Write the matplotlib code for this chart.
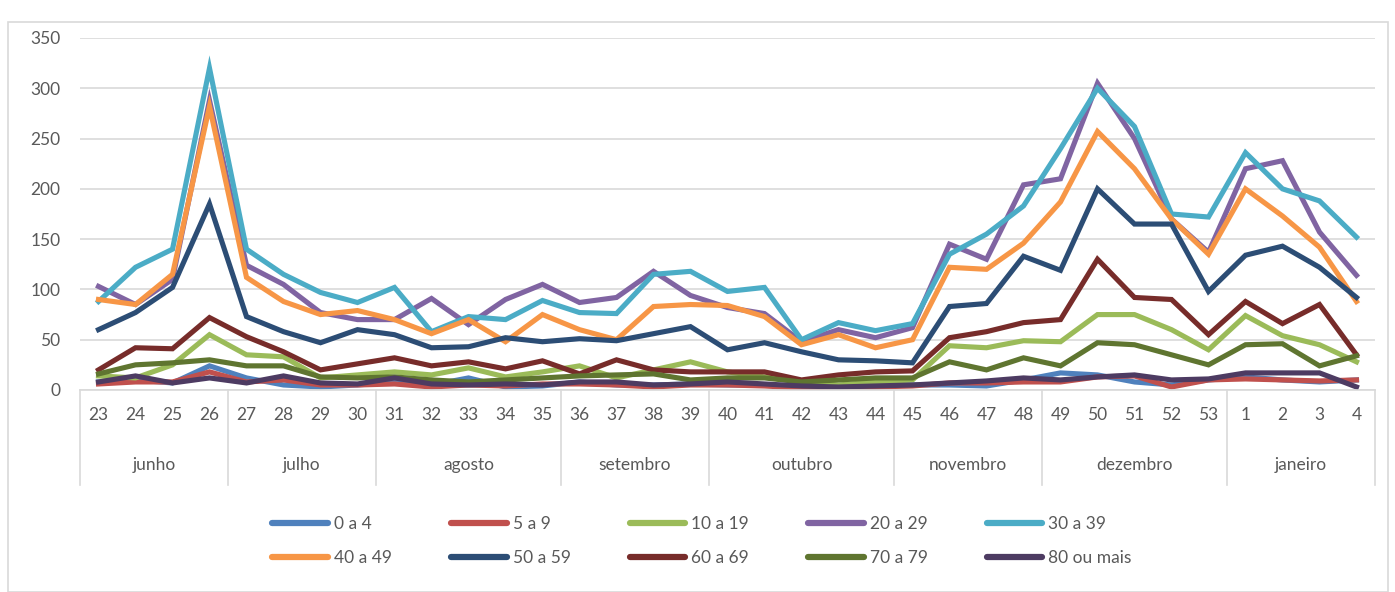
import matplotlib
matplotlib.use("Agg")
import matplotlib.pyplot as plt
from matplotlib.patches import Rectangle
from matplotlib.lines import Line2D

plt.rcParams['font.family'] = ['Lato', 'DejaVu Sans']

weeks = ['23', '24', '25', '26', '27', '28', '29', '30', '31', '32', '33', '34', '35',
         '36', '37', '38', '39', '40', '41', '42', '43', '44', '45', '46', '47', '48',
         '49', '50', '51', '52', '53', '1', '2', '3', '4']
months = ['junho', 'julho', 'agosto', 'setembro', 'outubro', 'novembro', 'dezembro', 'janeiro']
month_sizes = [4, 4, 5, 4, 5, 4, 5, 4]

s_0a4 = [8, 10, 7, 24, 12, 5, 3, 5, 8, 5, 12, 3, 4, 8, 5, 5, 6, 5, 5, 3, 3, 5, 5, 5, 4, 10,
         17, 15, 8, 5, 10, 13, 10, 8, 10]
s_5a9 = [6, 8, 8, 18, 8, 10, 5, 5, 6, 3, 5, 4, 6, 6, 5, 3, 5, 5, 4, 2, 3, 3, 4, 7, 7, 8,
         8, 13, 14, 3, 10, 11, 10, 9, 10]
s_10a19 = [14, 12, 25, 55, 35, 33, 12, 15, 18, 15, 22, 13, 18, 24, 12, 20, 28, 18, 13, 8, 5, 8,
           10, 44, 42, 49, 48, 75, 75, 60, 40, 74, 54, 45, 28]
s_20a29 = [103, 85, 110, 288, 124, 105, 77, 70, 70, 91, 65, 90, 105, 87, 92, 118, 94, 82, 76,
           48, 60, 52, 62, 145, 130, 204, 210, 305, 250, 170, 137, 220, 228, 157, 114]
s_30a39 = [88, 122, 140, 320, 140, 115, 97, 87, 102, 58, 73, 70, 89, 77, 76, 115, 118, 98, 102,
           50, 67, 59, 66, 135, 155, 183, 240, 300, 262, 175, 172, 236, 200, 188, 152]
s_40a49 = [90, 85, 115, 282, 112, 88, 75, 79, 70, 56, 70, 48, 75, 60, 50, 83, 85, 84, 73, 45,
           55, 42, 50, 122, 120, 146, 187, 257, 220, 170, 135, 200, 173, 142, 88]
s_50a59 = [60, 77, 102, 185, 73, 58, 47, 60, 55, 42, 43, 52, 48, 51, 49, 56, 63, 40, 47, 38,
           30, 29, 27, 83, 86, 133, 119, 200, 165, 165, 98, 134, 143, 122, 92]
s_60a69 = [20, 42, 41, 72, 53, 38, 20, 26, 32, 24, 28, 21, 29, 16, 30, 20, 18, 18, 18, 10, 15,
           18, 19, 52, 58, 67, 70, 130, 92, 90, 55, 88, 66, 85, 35]
s_70a79 = [16, 25, 27, 30, 24, 24, 13, 12, 13, 10, 8, 10, 12, 14, 15, 16, 10, 12, 12, 8, 10, 12,
           12, 28, 20, 32, 24, 47, 45, 35, 25, 45, 46, 24, 34]
s_80mais = [8, 14, 7, 12, 7, 14, 7, 6, 12, 6, 5, 6, 5, 8, 8, 5, 6, 8, 6, 4, 3, 4, 5, 7, 9, 12,
            10, 13, 15, 10, 11, 17, 17, 17, 3]

series_labels = ['0 a 4', '5 a 9', '10 a 19', '20 a 29', '30 a 39',
                 '40 a 49', '50 a 59', '60 a 69', '70 a 79', '80 ou mais']
series_values = [s_0a4, s_5a9, s_10a19, s_20a29, s_30a39,
                 s_40a49, s_50a59, s_60a69, s_70a79, s_80mais]
colors = ['#4F81BD', '#C0504D', '#9BBB59', '#8064A2', '#4BACC6',
          '#F79646', '#2C4D75', '#772C2A', '#5F7530', '#4D3B62']

W, H = 1395, 592
fig = plt.figure(figsize=(W / 100, H / 100), dpi=100)
fig.patches.append(Rectangle((8 / W, 0), (1388 - 8) / W, (H - 22) / H, transform=fig.transFigure,
                             fill=False, edgecolor='#D9D9D9', lw=1.2))

ax = fig.add_axes([80 / W, 1 - 390 / H, (1375 - 80) / W, (390 - 38) / H])
x = list(range(len(weeks)))
for vals, c, lab in zip(series_values, colors, series_labels):
    ax.plot(x, vals, color=c, lw=3.7, label=lab, solid_joinstyle='miter')

ax.set_xlim(-0.5, len(weeks) - 0.5)
ax.set_ylim(0, 350)
ax.set_yticks(range(0, 351, 50))
ax.yaxis.grid(True, color='#D9D9D9', lw=1.2)
ax.set_axisbelow(True)
for s in ['top', 'right', 'left']:
    ax.spines[s].set_visible(False)
ax.spines['bottom'].set_color('#D9D9D9')
ax.spines['bottom'].set_linewidth(1.2)
ax.tick_params(axis='y', length=0, labelsize=12.5, labelcolor='#595959', pad=14)
ax.set_xticks(x)
ax.set_xticklabels(weeks)
ax.tick_params(axis='x', length=0, labelsize=12.5, labelcolor='#595959', pad=12)

# month level
trans = ax.get_xaxis_transform()
pos = -0.5
bounds = [pos]
for m, n in zip(months, month_sizes):
    ax.text(pos + n / 2, -0.213, m, transform=trans, ha='center', va='center',
            fontsize=12.5, color='#595959')
    pos += n
    bounds.append(pos)
for b in bounds:
    ax.add_line(Line2D([b, b], [0, -0.27], transform=trans, color='#D9D9D9', lw=1.2,
                       clip_on=False))

handles = [Line2D([], [], color=c, lw=4.5, solid_capstyle='round') for c in colors]
order = [0, 5, 1, 6, 2, 7, 3, 8, 4, 9]
fig.legend([handles[i] for i in order], [series_labels[i] for i in order], loc='center',
           bbox_to_anchor=(702 / W, 1 - 541 / H),
           ncol=5, frameon=False, fontsize=12.5, handlelength=3.2, columnspacing=3.4,
           labelcolor='#595959', handletextpad=0.35, labelspacing=1.05)

fig.savefig('out.png', dpi=100)
